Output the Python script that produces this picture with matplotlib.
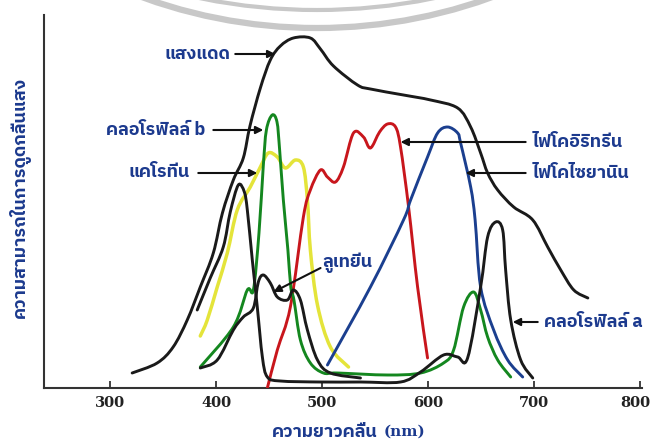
import matplotlib
matplotlib.use("Agg")
import matplotlib.pyplot as plt
import matplotlib.transforms as mtransforms
from matplotlib import font_manager
from matplotlib.patches import Arc, PathPatch
from matplotlib.path import Path

# ---------------- data (wavelength nm, relative absorption) ----------------
sun_x = [320.8, 344.4, 359.5, 372.8, 385.1, 397.4, 406.0, 416.3, 425.7, 432.0, 441.8,
         451.2, 460.7, 473.0, 489.0, 498.5, 510.8, 533.5, 545.7, 576.9, 602.5, 628.0,
         640.3, 649.7, 656.3, 665.8, 680.9, 698.9, 713.0, 725.3, 737.6, 750.9]
sun_y = [15, 25, 41, 68, 101, 135, 175, 208, 230, 262, 300,
         328, 342, 350, 350, 339, 322, 303, 299, 293, 288, 280,
         261, 235, 215, 198, 181, 168, 141, 118, 98, 90]

chla_x = [382.2, 394.5, 406.8, 413.4, 421.0, 426.7, 429.5, 434.2, 438.9, 443.7, 448.4, 460.7,
          498.5, 536.3, 574.1, 593.0, 614.7, 628.0, 637.4, 649.7, 656.3, 663.9, 670.5, 673.3,
          678.1, 687.5, 698.9]
chla_y = [78, 110, 141, 176, 203, 196, 178, 128, 81, 31, 11, 7,
          6, 6, 6, 16, 33, 31, 30, 101, 151, 166, 158, 118,
          68, 28, 10]

lut_x = [385.1, 401.1, 416.3, 425.7, 435.2, 439.9, 444.6, 451.2, 457.8, 467.3, 473.0, 479.6,
         486.2, 495.7, 507.9, 536.3]
lut_y = [20, 28, 58, 71, 80, 106, 113, 105, 91, 88, 98, 88,
         58, 28, 15, 10]

chlb_x = [385.1, 416.3, 429.5, 435.2, 440.5, 444.5, 447.5, 453.0, 457.5, 460.0, 463.5, 467.8,
          470.5, 473.5, 479.6, 489.0, 501.3, 514.6, 561.8, 593.0, 614.7, 624.2, 633.6, 643.1,
          649.7, 656.3, 665.8, 678.1]
chlb_y = [21, 61, 98, 98, 155, 221, 258, 273, 266, 238, 188, 138,
          101, 88, 48, 25, 15, 15, 13, 15, 25, 38, 81, 96,
          78, 51, 28, 11]

car_x = [385.1, 391.7, 401.1, 410.6, 420.0, 432.3, 441.8, 449.3, 457.8, 465.4, 474.9, 482.4,
         486.2, 489.0, 495.7, 507.9, 525.0]
car_y = [52, 68, 101, 135, 178, 201, 221, 235, 231, 220, 228, 221,
         188, 138, 83, 41, 21]

pe_x = [448.4, 457.8, 470.1, 482.4, 489.0, 498.5, 505.1, 512.7, 520.2, 529.7, 539.1, 545.7,
        554.3, 561.8, 569.4, 574.1, 581.7, 590.2, 599.6]
pe_y = [0, 38, 81, 171, 198, 218, 211, 206, 221, 255, 251, 240,
        256, 264, 261, 241, 181, 101, 30]

pc_x = [505.1, 545.7, 576.9, 583.6, 599.6, 609.1, 618.5, 628.0, 630.8, 640.3, 644.5, 649.7,
        662.0, 675.2, 689.4]
pc_y = [23, 101, 168, 188, 231, 255, 261, 255, 245, 201, 168, 101,
        58, 28, 11]

x_ticks = [300, 400, 500, 600, 700, 800]
x_label_th = "ความยาวคลื่น"
x_label_unit = "(nm)"
y_label = "ความสามารถในการดูดกลืนแสง"

lbl_sun = "แสงแดด"
lbl_chlb = "คลอโรฟิลล์ b"
lbl_car = "แคโรทีน"
lbl_lut = "ลูเทยีน"
lbl_pe = "ไฟโคอิริทรีน"
lbl_pc = "ไฟโคไซยานิน"
lbl_chla = "คลอโรฟิลล์ a"

# ---------------- find a font with Thai glyphs ----------------
thai_family = None
try:
    from fontTools.ttLib import TTFont
    cands = []
    for f in font_manager.fontManager.ttflist:
        try:
            tt = TTFont(f.fname, fontNumber=0, lazy=True)
            cmap = tt.getBestCmap()
            if cmap and 0x0E01 in cmap and 0x0E34 in cmap:
                cands.append(f)
        except Exception:
            pass
    if cands:
        cands.sort(key=lambda f: (0 if 'Sans' in f.name else 1, f.name))
        thai_family = cands[0].name
except Exception:
    pass

fam = [thai_family, 'DejaVu Sans'] if thai_family else ['DejaVu Sans']
plt.rcParams['font.family'] = fam

LBL = '#1c3a8e'
fig = plt.figure(figsize=(6.5, 4.41), dpi=100)

# watermark arcs at top (behind everything)
ov = fig.add_axes([0, 0, 1, 1], zorder=-1)
ov.set_xlim(0, 650)
ov.set_ylim(441, 0)
ov.axis('off')
ov.add_patch(Arc((317, -484), 1024, 1024, theta1=0, theta2=360, color='#c8c8c8', lw=4.5))
ov.add_patch(Arc((317, -578), 1176, 1176, theta1=0, theta2=360, color='#c8c8c8', lw=3))

ax = fig.add_axes([44 / 650, 53 / 441, 598 / 650, 373 / 441])
ax.set_facecolor('none')


def smooth_curve(xs, ys, color, lw, z):
    """Draw a smooth (Catmull-Rom as Bezier) line through the data points."""
    n = len(xs)
    pts = list(zip(xs, ys))
    verts = [pts[0]]
    codes = [Path.MOVETO]
    for i in range(n - 1):
        p0 = pts[i - 1] if i > 0 else pts[i]
        p1 = pts[i]
        p2 = pts[i + 1]
        p3 = pts[i + 2] if i + 2 < n else pts[i + 1]
        c1 = (p1[0] + (p2[0] - p0[0]) / 6.0, p1[1] + (p2[1] - p0[1]) / 6.0)
        c2 = (p2[0] - (p3[0] - p1[0]) / 6.0, p2[1] - (p3[1] - p1[1]) / 6.0)
        verts += [c1, c2, p2]
        codes += [Path.CURVE4] * 3
    ax.add_patch(PathPatch(Path(verts, codes), fill=False, edgecolor=color, lw=lw,
                           capstyle='round', joinstyle='round', zorder=z))


lw = 2.1
smooth_curve(car_x, car_y, '#e4e43a', 2.5, 2)
smooth_curve(pe_x, pe_y, '#c8161c', lw, 3)
smooth_curve(pc_x, pc_y, '#1b3f8f', lw, 3)
smooth_curve(chlb_x, chlb_y, '#14871f', lw, 4)
smooth_curve(lut_x, lut_y, '#1a1a1a', lw, 5)
smooth_curve(chla_x, chla_y, '#1a1a1a', lw, 5)
smooth_curve(sun_x, sun_y, '#1a1a1a', lw, 5)

ax.set_xlim(237.6, 802)
ax.set_ylim(0, 373)
ax.set_xticks(x_ticks)
ax.set_xticklabels([str(t) for t in x_ticks], family='DejaVu Serif', fontsize=10.5, fontweight='bold')
ax.set_yticks([])
ax.tick_params(axis='x', direction='in', length=5, width=1.2, pad=6, colors='#222222')
for s in ['top', 'right']:
    ax.spines[s].set_visible(False)
for s in ['left', 'bottom']:
    ax.spines[s].set_linewidth(1.5)
    ax.spines[s].set_color('#333333')

# keep the last tick label inside the canvas
last = ax.get_xticklabels()[-1]
last.set_transform(last.get_transform() + mtransforms.ScaledTranslation(-0.05, 0, fig.dpi_scale_trans))

tkw = dict(color=LBL, fontsize=13, fontweight='bold', va='center', zorder=6)
akw = dict(arrowstyle='-|>', color='#111111', lw=1.5, mutation_scale=11, shrinkA=0, shrinkB=0)


def lab(text, tx, ty, ha, tail, head):
    ax.text(tx, ty, text, ha=ha, **tkw)
    ax.annotate('', xy=head, xytext=tail, arrowprops=akw, zorder=6)


lab(lbl_sun, 413.4, 334, 'right', (418.1, 334), (456.0, 334))
lab(lbl_chlb, 389.8, 258, 'right', (397.4, 258), (444.6, 258))
lab(lbl_car, 375.6, 216, 'right', (383.2, 215), (438.9, 215))
lab(lbl_lut, 500.4, 125, 'left', (498.6, 120), (454.1, 96))
lab(lbl_pe, 698.9, 246, 'left', (692.2, 246), (574.1, 246))
lab(lbl_pc, 698.9, 215, 'left', (692.2, 215), (635.5, 215))
lab(lbl_chla, 709.3, 66, 'left', (703.6, 66), (680.0, 66))

fig.text(378 / 650, 9 / 441, x_label_th, color=LBL, fontsize=13, fontweight='bold',
         ha='right', va='center')
fig.text(384 / 650, 9 / 441, x_label_unit, color=LBL, fontsize=11, fontweight='bold',
         family='DejaVu Serif', ha='left', va='center')
fig.text(20 / 650, (441 - 197) / 441, y_label, color=LBL, fontsize=13, fontweight='bold',
         rotation=90, ha='center', va='center')

fig.savefig('out.png', dpi=100)
